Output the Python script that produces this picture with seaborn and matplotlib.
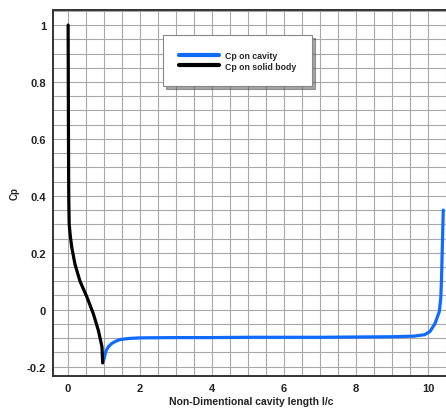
import numpy as np
import pandas as pd
import matplotlib
matplotlib.use("Agg")
import matplotlib.pyplot as plt
from matplotlib.ticker import MultipleLocator
import seaborn as sns

# ---- data ----
solid_x = [0.0, 0.005, 0.01, 0.015, 0.02, 0.03, 0.06, 0.10, 0.19, 0.33, 0.52, 0.70, 0.84, 0.94, 0.96]
solid_y = [1.0, 0.8, 0.6, 0.45, 0.37, 0.30, 0.26, 0.22, 0.16, 0.10, 0.045, -0.014, -0.073, -0.13, -0.187]

cavity_x = [0.98, 1.0, 1.03, 1.06, 1.12, 1.21, 1.32, 1.44, 1.7, 2.0, 3.0, 4.0, 5.0, 6.0, 7.0, 8.0,
            9.0, 9.6, 9.9, 10.05, 10.19, 10.31, 10.35, 10.37, 10.40, 10.42]
cavity_y = [-0.18, -0.172, -0.155, -0.143, -0.13, -0.119, -0.111, -0.105, -0.101, -0.099, -0.098,
            -0.098, -0.097, -0.097, -0.097, -0.096, -0.095, -0.093, -0.088, -0.077, -0.049, -0.007,
            0.039, 0.10, 0.25, 0.35]

series_names = ["Cp on cavity", "Cp on solid body"]
series_colors = ["#0f6bff", "#000000"]

y_tick_values = [-0.2, 0, 0.2, 0.4, 0.6, 0.8, 1.0]
y_tick_labels = ["-0.2", "0", "0.2", "0.4", "0.6", "0.8", "1"]

df = pd.concat([
    pd.DataFrame({"x": cavity_x, "y": cavity_y, "series": series_names[0]}),
    pd.DataFrame({"x": solid_x, "y": solid_y, "series": series_names[1]}),
], ignore_index=True)

sns.set_style("white")
plt.rcParams["font.family"] = ["Liberation Sans", "DejaVu Sans"]

fig = plt.figure(figsize=(4.46, 4.10), dpi=100)
ax = fig.add_axes([53 / 446, 1 - 377 / 410, (446 - 53) / 446 + 0.01, (377 - 11) / 410])

sns.lineplot(data=df, x="x", y="y", hue="series", hue_order=series_names,
             palette=dict(zip(series_names, series_colors)), sort=False,
             estimator=None, linewidth=2.3, ax=ax, legend=True)

ax.set_xlim(-0.42, 10.62)
ax.set_ylim(-0.233, 1.053)

ax.xaxis.set_major_locator(MultipleLocator(2))
ax.xaxis.set_minor_locator(MultipleLocator(0.5))
ax.yaxis.set_minor_locator(MultipleLocator(0.05))
ax.set_yticks(y_tick_values)
ax.set_yticklabels(y_tick_labels)

ax.grid(True, which="both", color="#a8a8a8", linewidth=0.8)
ax.set_axisbelow(True)

ax.tick_params(axis="both", which="major", direction="in", length=6, width=1.2,
               color="#222222", labelsize=8, pad=5)
ax.tick_params(axis="both", which="minor", direction="in", length=3, width=0.8,
               color="#222222")
for lab in ax.get_xticklabels() + ax.get_yticklabels():
    lab.set_fontweight("bold")
    lab.set_color("#222222")

for side in ["left", "bottom", "top"]:
    ax.spines[side].set_color("#333333")
    ax.spines[side].set_linewidth(1.4)
ax.spines["right"].set_visible(False)

ax.set_xlabel("Non-Dimentional cavity length l/c", fontsize=7.5, fontweight="bold",
              color="#222222", labelpad=2)
ax.set_ylabel("Cp", fontsize=7, fontweight="bold", color="#222222", labelpad=5)

leg = ax.legend(loc="upper left", bbox_to_anchor=((162 - 53) / 393, 1 - (36 - 11) / 366),
                frameon=True, fancybox=False, shadow=True,
                prop={"weight": "bold", "size": 6.3},
                handlelength=4.6, handletextpad=0.7, borderpad=1.8,
                labelspacing=0.2, borderaxespad=0)
leg.get_frame().set_edgecolor("#888888")
leg.get_frame().set_linewidth(0.8)
for line in leg.get_lines():
    line.set_linewidth(3)

fig.savefig("out.png", dpi=100)
